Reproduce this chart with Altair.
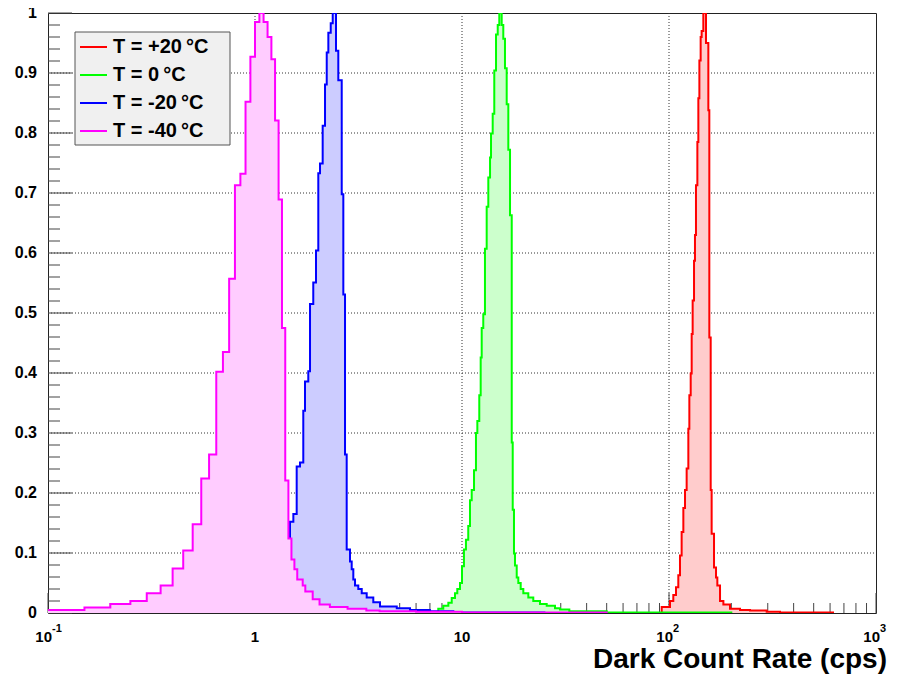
import altair as alt
import pandas as pd

# ---------------- data ----------------
series_names = ["T = +20\u2009°C", "T = 0\u2009°C", "T = -20\u2009°C", "T = -40\u2009°C"]
series_colors = ["#ff0000", "#00ff00", "#0000ff", "#ff00ff"]
fill_colors = ["#ffcccc", "#ccffcc", "#ccccff", "#ffccff"]

# T = +20 C (red)
red_edges = [0.1, 92.2, 101.1, 104.9, 108.1, 110.9, 113.0, 115.1, 117.3, 119.5, 121.7, 124.0,
             125.4, 127.3, 128.7, 130.1, 132.1, 133.5, 135.0, 137.1, 138.6, 140.2, 142.2,
             143.8, 146.5, 150.9, 154.9, 156.6, 159.0, 160.7, 165.0, 168.7, 171.2, 176.4,
             183.1, 197.1, 220.3, 246.3, 296.4, 343.8, 620.0]
red_vals = [0.0, 0.010, 0.020, 0.030, 0.043, 0.063, 0.096, 0.135, 0.175, 0.205, 0.241, 0.307,
            0.363, 0.399, 0.465, 0.521, 0.587, 0.630, 0.713, 0.785, 0.858, 0.921, 0.960,
            0.970, 1.0, 0.950, 0.838, 0.459, 0.205, 0.132, 0.076, 0.059, 0.046, 0.020,
            0.014, 0.007, 0.005, 0.004, 0.002, 0.001]

# T = 0 C (green)
green_edges = [0.1, 7.68, 8.12, 8.59, 8.92, 9.25, 9.49, 9.78, 10.0, 10.22, 10.45, 10.72, 10.93,
               11.14, 11.43, 11.68, 11.86, 12.12, 12.31, 12.45, 12.67, 12.91, 13.16, 13.40,
               13.66, 13.81, 14.07, 14.32, 14.60, 14.88, 15.14, 15.55, 15.83, 16.13, 16.44,
               16.74, 17.06, 17.39, 17.58, 17.83, 18.03, 18.38, 18.71, 19.21, 19.78, 20.91,
               22.10, 23.81, 25.66, 28.14, 29.75, 33.0, 50.0, 200.0]
green_vals = [0.0, 0.007, 0.012, 0.017, 0.025, 0.033, 0.040, 0.050, 0.078, 0.106, 0.122, 0.145,
              0.188, 0.205, 0.238, 0.300, 0.320, 0.363, 0.426, 0.475, 0.498, 0.607, 0.677,
              0.726, 0.759, 0.799, 0.832, 0.904, 0.964, 0.980, 1.0, 0.980, 0.957, 0.908,
              0.848, 0.772, 0.663, 0.284, 0.172, 0.099, 0.079, 0.059, 0.050, 0.040, 0.033,
              0.026, 0.020, 0.015, 0.012, 0.008, 0.006, 0.003, 0.001]

# T = -20 C (blue)
blue_edges = [0.1, 1.476, 1.532, 1.590, 1.650, 1.711, 1.744, 1.809, 1.844, 1.912, 1.971, 2.022,
              2.061, 2.123, 2.179, 2.221, 2.261, 2.322, 2.374, 2.462, 2.526, 2.624, 2.671,
              2.722, 2.773, 2.877, 2.932, 2.985, 3.042, 3.155, 3.278, 3.464, 3.728, 4.017,
              4.84, 5.61, 7.0, 9.08, 25.0]
blue_vals = [0.0, 0.152, 0.165, 0.244, 0.251, 0.337, 0.386, 0.403, 0.515, 0.551, 0.604, 0.733,
             0.749, 0.812, 0.881, 0.934, 0.967, 0.983, 1.0, 0.937, 0.888, 0.698, 0.531,
             0.264, 0.106, 0.086, 0.073, 0.056, 0.046, 0.040, 0.033, 0.026, 0.018,
             0.011, 0.008, 0.005, 0.003, 0.001]

# T = -40 C (magenta)
mag_edges = [0.10, 0.15, 0.20, 0.25, 0.30, 0.35, 0.40, 0.45, 0.50, 0.55, 0.60, 0.65, 0.70,
             0.75, 0.80, 0.85, 0.90, 0.95, 1.00, 1.05, 1.10, 1.15, 1.20, 1.25, 1.30, 1.35,
             1.40, 1.45, 1.50, 1.55, 1.60, 1.70, 1.75, 1.90, 2.05, 2.30, 2.80, 3.45, 4.0,
             6.0, 10.0, 50.0]
mag_vals = [0.005, 0.009, 0.015, 0.020, 0.033, 0.046, 0.074, 0.104, 0.148, 0.224, 0.264, 0.402,
            0.435, 0.557, 0.713, 0.732, 0.852, 0.927, 0.985, 1.0, 0.985, 0.960, 0.923, 0.821,
            0.689, 0.475, 0.221, 0.124, 0.089, 0.073, 0.056, 0.046, 0.036, 0.023, 0.014,
            0.010, 0.007, 0.004, 0.003, 0.002, 0.001]

all_edges = [red_edges, green_edges, blue_edges, mag_edges]
all_vals = [red_vals, green_vals, blue_vals, mag_vals]

y_ticks = [0, 0.1, 0.2, 0.3, 0.4, 0.5, 0.6, 0.7, 0.8, 0.9, 1.0]
y_tick_labels = ["0", "0.1", "0.2", "0.3", "0.4", "0.5", "0.6", "0.7", "0.8", "0.9", "1"]
y_minor = [0.02, 0.04, 0.06, 0.08, 0.12, 0.14, 0.16, 0.18, 0.22, 0.24, 0.26, 0.28,
           0.32, 0.34, 0.36, 0.38, 0.42, 0.44, 0.46, 0.48, 0.52, 0.54, 0.56, 0.58,
           0.62, 0.64, 0.66, 0.68, 0.72, 0.74, 0.76, 0.78, 0.82, 0.84, 0.86, 0.88,
           0.92, 0.94, 0.96, 0.98]
x_ticks = [0.1, 1, 10, 100, 1000]
x_tick_base = ["10", "1", "10", "10", "10"]
x_tick_exp = ["-1", "", "", "2", "3"]
x_minor = [0.2, 0.3, 0.4, 0.5, 0.6, 0.7, 0.8, 0.9, 2, 3, 4, 5, 6, 7, 8, 9,
           20, 30, 40, 50, 60, 70, 80, 90, 200, 300, 400, 500, 600, 700, 800, 900]
x_grid = [1, 10, 100]
y_grid = [0.1, 0.2, 0.3, 0.4, 0.5, 0.6, 0.7, 0.8, 0.9]
x_title = "Dark Count Rate (cps)"

# ---------------- chart ----------------
W, H = 828, 600
FONT = "Liberation Sans"
xs = alt.Scale(type="log", domain=[0.1, 1000])
ys = alt.Scale(domain=[0, 1])

layers = []

# grid (dotted)
layers.append(alt.Chart(pd.DataFrame({"v": y_grid})).mark_rule(
    color="#333", strokeWidth=1, strokeDash=[1, 2]).encode(
    y=alt.Y("v:Q", scale=ys, axis=None), x=alt.value(0), x2=alt.value(W)))
layers.append(alt.Chart(pd.DataFrame({"v": x_grid})).mark_rule(
    color="#333", strokeWidth=1, strokeDash=[1, 2]).encode(
    x=alt.X("v:Q", scale=xs, axis=None), y=alt.value(0), y2=alt.value(H)))

# ticks (inward, ROOT style)
layers.append(alt.Chart(pd.DataFrame({"v": y_ticks})).mark_rule(color="#444", strokeWidth=1).encode(
    y=alt.Y("v:Q", scale=ys, axis=None), x=alt.value(0), x2=alt.value(24)))
layers.append(alt.Chart(pd.DataFrame({"v": y_minor})).mark_rule(color="#444", strokeWidth=1).encode(
    y=alt.Y("v:Q", scale=ys, axis=None), x=alt.value(0), x2=alt.value(12)))
layers.append(alt.Chart(pd.DataFrame({"v": x_ticks})).mark_rule(color="#444", strokeWidth=1).encode(
    x=alt.X("v:Q", scale=xs, axis=None), y=alt.value(H - 20), y2=alt.value(H)))
layers.append(alt.Chart(pd.DataFrame({"v": x_minor})).mark_rule(color="#444", strokeWidth=1).encode(
    x=alt.X("v:Q", scale=xs, axis=None), y=alt.value(H - 10), y2=alt.value(H)))

# histograms (one point per bin edge, step-after)
for name, col, fcol, edges, vals in zip(series_names, series_colors, fill_colors, all_edges, all_vals):
    df = pd.DataFrame({"x": list(edges), "y": list(vals) + [0.0]})
    base = alt.Chart(df).encode(
        x=alt.X("x:Q", scale=xs, axis=None),
        y=alt.Y("y:Q", scale=ys, axis=None, stack=None))
    layers.append(base.mark_area(color=fcol, opacity=1, clip=True, interpolate="step-after"))
    layers.append(base.mark_line(color=col, strokeWidth=2, clip=True, interpolate="step-after"))

# axis labels
layers.append(alt.Chart(pd.DataFrame({"v": y_ticks, "t": y_tick_labels})).mark_text(
    align="right", baseline="middle", font=FONT, fontSize=16, fontWeight="bold", color="#000").encode(
    y=alt.Y("v:Q", scale=ys, axis=None), x=alt.value(-11), text="t:N"))

xl = pd.DataFrame({"v": x_ticks, "b": x_tick_base, "e": x_tick_exp})
plain = xl[xl["e"] == ""]
powered = xl[xl["e"] != ""]
layers.append(alt.Chart(plain).mark_text(
    align="center", baseline="middle", font=FONT, fontSize=15, fontWeight="bold", color="#000").encode(
    x=alt.X("v:Q", scale=xs, axis=None), y=alt.value(H + 24), text="b:N"))
layers.append(alt.Chart(powered).mark_text(
    align="right", baseline="middle", font=FONT, fontSize=15, fontWeight="bold", color="#000", dx=4).encode(
    x=alt.X("v:Q", scale=xs, axis=None), y=alt.value(H + 24), text="b:N"))
layers.append(alt.Chart(powered).mark_text(
    align="left", baseline="middle", font=FONT, fontSize=11, fontWeight="bold", color="#000", dx=4).encode(
    x=alt.X("v:Q", scale=xs, axis=None), y=alt.value(H + 16), text="e:N"))

layers.append(alt.Chart(pd.DataFrame({"t": [x_title]})).mark_text(
    align="right", baseline="alphabetic", font=FONT, fontSize=28, fontWeight="bold", color="#000").encode(
    x=alt.value(W + 11), y=alt.value(H + 55), text="t:N"))

# legend box
layers.append(alt.Chart(alt.Data(values=[{}])).mark_rect(
    fill="#f0f0f0", stroke="#555", strokeWidth=1).encode(
    x=alt.value(27), x2=alt.value(182), y=alt.value(19), y2=alt.value(132)))
leg = pd.DataFrame({"label": series_names, "color": series_colors,
                    "ypix": [34 + 28 * k for k in range(len(series_names))]})
layers.append(alt.Chart(leg).mark_rule(strokeWidth=2).encode(
    x=alt.value(32), x2=alt.value(59), y=alt.Y("ypix:Q", scale=None),
    color=alt.Color("color:N", scale=None)))
layers.append(alt.Chart(leg).mark_text(
    align="left", baseline="middle", font=FONT, fontSize=20, fontWeight="bold", color="#000").encode(
    x=alt.value(65), y=alt.Y("ypix:Q", scale=None), text="label:N"))

chart = alt.layer(*layers).properties(
    width=W, height=H,
    autosize=alt.AutoSizeParams(type="none"),
    padding={"left": 40, "top": 5, "right": 18, "bottom": 62},
).configure_view(stroke="#222", strokeWidth=1)

chart.save("out.html", embed_options={"renderer": "svg", "actions": False})
